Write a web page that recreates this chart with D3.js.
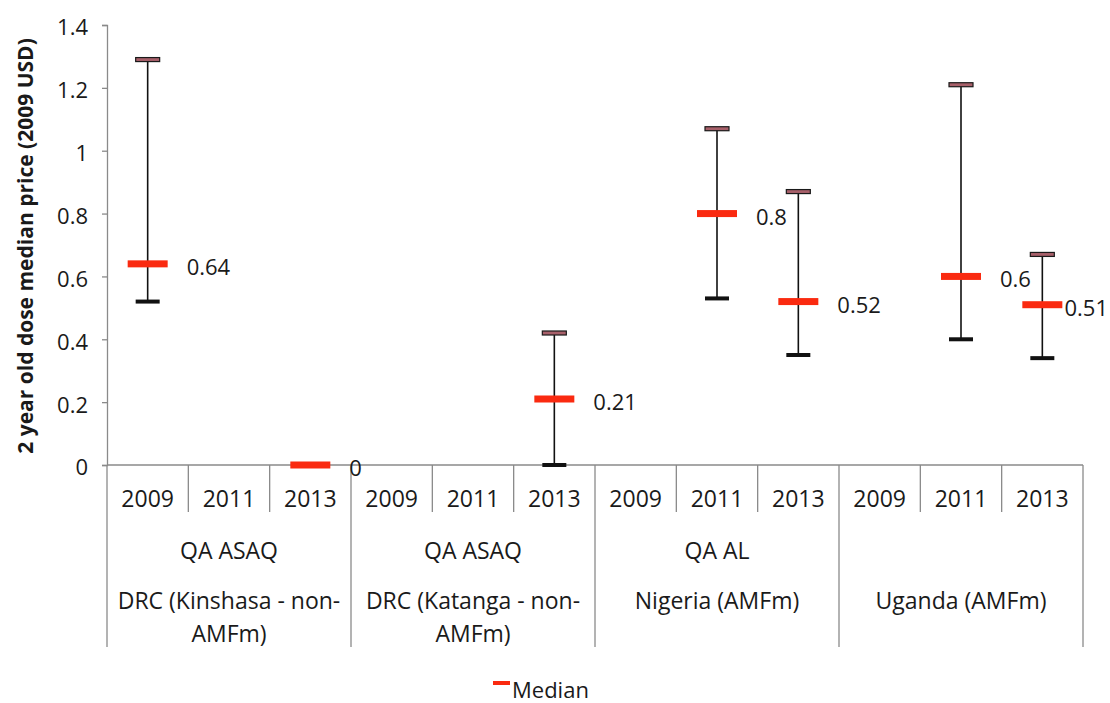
<!DOCTYPE html>
<html><head><meta charset="utf-8">
<script src="https://cdn.jsdelivr.net/npm/d3@7"></script>
<style>
html,body{margin:0;padding:0;background:#fff;}
text{font-family:"Open Sans",sans-serif;fill:#1a1a1a;}
</style></head>
<body>
<svg id="chart" width="1110" height="703"></svg>
<script>
const years = ["2009","2011","2013"];
const products = ["QA ASAQ","QA ASAQ","QA AL",""];
const countries = [["DRC (Kinshasa - non-","AMFm)"],["DRC (Katanga - non-","AMFm)"],["Nigeria (AMFm)"],["Uganda (AMFm)"]];
const medians = [0.64,null,0,null,null,0.21,null,0.8,0.52,null,0.6,0.51];
const highs   = [1.29,null,null,null,null,0.42,null,1.07,0.87,null,1.21,0.67];
const lows    = [0.52,null,null,null,null,0,null,0.53,0.35,null,0.40,0.34];
const yTicks = [0,0.2,0.4,0.6,0.8,1,1.2,1.4];
const yTitle = "2 year old dose median price (2009 USD)";
const legendLabel = "Median";

(function(){
const svg = d3.select("#chart");
const pL = 107, pR = 1083, pT = 25, pB = 465;
const idx = d3.range(countries.length*years.length);
const x = d3.scaleBand().domain(idx).range([pL,pR]).padding(0);
const y = d3.scaleLinear().domain([0,1.4]).range([pB,pT]);
const axisColor = "#8a8a8a";

// y axis
const yAxis = svg.append("g").attr("transform",`translate(${pL},0)`)
  .call(d3.axisLeft(y).tickValues(yTicks).tickSize(5).tickPadding(14).tickFormat(d3.format("")));
yAxis.select(".domain").attr("stroke",axisColor).attr("stroke-width",1.3);
yAxis.selectAll(".tick line").attr("stroke",axisColor).attr("stroke-width",1.3);
yAxis.selectAll(".tick text").attr("font-size",22).attr("font-family","Open Sans").attr("fill","#1a1a1a").attr("dy","0.45em");

// x axis line
svg.append("line").attr("x1",pL).attr("x2",pR).attr("y1",pB).attr("y2",pB)
  .attr("stroke",axisColor).attr("stroke-width",1.3);

// year ticks and labels
idx.forEach(i=>{
  const x0 = x(i);
  const isGroupEdge = i % years.length === 0;
  svg.append("line").attr("x1",x0).attr("x2",x0).attr("y1",pB)
    .attr("y2", isGroupEdge ? 647 : 512).attr("stroke",axisColor).attr("stroke-width",1.3);
  svg.append("text").attr("x",x0+x.bandwidth()/2).attr("y",498).attr("text-anchor","middle")
    .attr("dominant-baseline","central").attr("font-size",23).text(years[i%years.length]);
});
svg.append("line").attr("x1",pR).attr("x2",pR).attr("y1",pB).attr("y2",647)
  .attr("stroke",axisColor).attr("stroke-width",1.3);

// group labels
countries.forEach((c,g)=>{
  const cx = x(g*years.length) + x.bandwidth()*years.length/2;
  svg.append("text").attr("x",cx).attr("y",550).attr("text-anchor","middle")
    .attr("dominant-baseline","central").attr("font-size",23).text(products[g]);
  c.forEach((line,k)=>{
    svg.append("text").attr("x",cx).attr("y",600+k*33).attr("text-anchor","middle")
      .attr("dominant-baseline","central").attr("font-size",23).text(line);
  });
});

// y title
svg.append("text").attr("transform",`translate(25,${(pT+pB)/2+1}) rotate(-90)`)
  .attr("text-anchor","middle").attr("dominant-baseline","central")
  .attr("font-size",21).attr("font-weight","bold").text(yTitle);

// error bars
const capW = 24, capH = 4;
const marks = svg.append("g");
idx.forEach(i=>{
  const cx = x(i)+x.bandwidth()/2;
  if (highs[i]!=null && lows[i]!=null){
    marks.append("line").attr("x1",cx).attr("x2",cx).attr("y1",y(highs[i])).attr("y2",y(lows[i]))
      .attr("stroke","#111").attr("stroke-width",1.6);
    marks.append("rect").attr("x",cx-capW/2).attr("y",y(highs[i])-capH/2).attr("width",capW).attr("height",capH)
      .attr("fill","#a8606a").attr("stroke","#1a1a1a").attr("stroke-width",1.2);
    marks.append("rect").attr("x",cx-capW/2).attr("y",y(lows[i])-capH/2).attr("width",capW).attr("height",capH)
      .attr("fill","#111");
  }
});

// medians + labels
const fmt = d3.format("");
idx.forEach(i=>{
  if (medians[i]==null) return;
  const cx = x(i)+x.bandwidth()/2;
  const cy = y(medians[i]);
  marks.append("rect").attr("x",cx-20).attr("y",cy-3.5).attr("width",40).attr("height",7).attr("fill","#fa2a10");
  const t = marks.append("text").attr("x",cx+39).attr("y",cy+2).attr("dominant-baseline","central")
    .attr("font-size",22).text(fmt(medians[i]));
  const w = t.node().getComputedTextLength();
  if (cx+39+w > 1108) t.attr("x", Math.max(cx+20, 1108-w));
});

// legend
svg.append("rect").attr("x",493).attr("y",681).attr("width",17).attr("height",4).attr("fill","#fa2a10");
svg.append("text").attr("x",512).attr("y",689).attr("dominant-baseline","central").attr("font-size",22).text(legendLabel);
})();
</script>
</body></html>
